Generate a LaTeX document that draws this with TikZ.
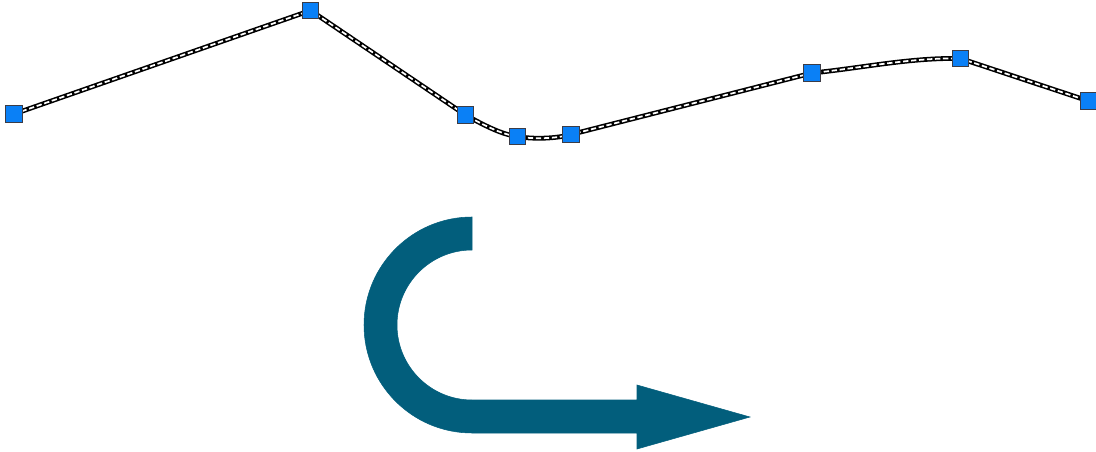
\documentclass[tikz,border=0pt]{standalone}
\usepackage{tikz}
\usetikzlibrary{positioning}

\tikzset{
  vertexbox/.style={draw={rgb, 255:red, 60; green, 60; blue, 70}, line width=0.8pt,
    fill={rgb, 255:red, 10; green, 128; blue, 246}, rectangle, inner sep=0pt,
    minimum size=12.5pt},
  polyouter/.style={draw=black, line width=3.6pt, line join=round},
  polyinner/.style={draw=white, line width=1.3pt, dash pattern=on 4pt off 2pt, line join=round}
}

\begin{document}
\begin{tikzpicture}[x=0.75pt,y=0.75pt,yscale=-1,xscale=1]
\path[use as bounding box] (0,0) rectangle (1096,452);

% Vertices
\coordinate (p1) at (14,114);
\coordinate (p2) at (310.5,10.5);
\coordinate (p3) at (465.5,115);
\coordinate (p4) at (517.5,136.5);
\coordinate (p5) at (571,134.5);
\coordinate (p6) at (812,73);
\coordinate (p7) at (960.5,58.5);
\coordinate (p8) at (1088.5,101);

%Straight Lines: polyline
\draw [polyouter] (p1) -- (p2) -- (p3) .. controls +(18,10) and +(-16,-2) .. (p4) .. controls +(16,3) and +(-14,4) .. (p5) -- (p6) .. controls +(50,-5) and +(-50,-1) .. (p7) -- (p8);
\draw [polyinner] (p1) -- (p2) -- (p3) .. controls +(18,10) and +(-16,-2) .. (p4) .. controls +(16,3) and +(-14,4) .. (p5) -- (p6) .. controls +(50,-5) and +(-50,-1) .. (p7) -- (p8);

%Shape: Squares
\node [vertexbox] (v1) at (p1) {};
\node [vertexbox] (v2) at (p2) {};
\node [vertexbox] (v3) at (p3) {};
\node [vertexbox] (v4) at (p4) {};
\node [vertexbox] (v5) at (p5) {};
\node [vertexbox] (v6) at (p6) {};
\node [vertexbox] (v7) at (p7) {};
\node [vertexbox] (v8) at (p8) {};

%Shape: Hook Arrow
\draw  [draw={rgb, 255:red, 2; green, 94; blue, 124 }, fill={rgb, 255:red, 2; green, 94; blue, 124 }, fill opacity=1, line width=0.4pt] (472,217) .. controls (412.35,217) and (364,265.35) .. (364,325) .. controls (364,384.65) and (412.35,433) .. (472,433) -- (637,433) -- (637,449) -- (750,417) -- (637,385) -- (637,400) -- (472,400) .. controls (430.58,400) and (397,366.42) .. (397,325) .. controls (397,283.58) and (430.58,250) .. (472,250) -- cycle ;

\end{tikzpicture}
\end{document}
